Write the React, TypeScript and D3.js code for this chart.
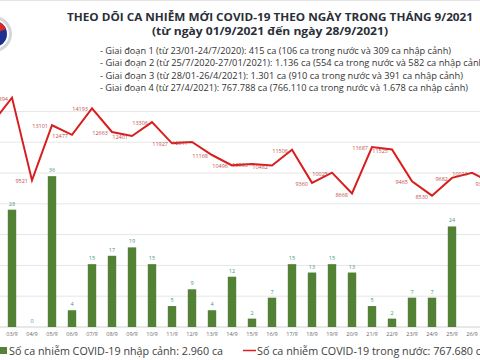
import React from "react";
import * as d3 from "d3";

const dates = ["02/9","03/9","04/9","05/9","06/9","07/9","08/9","09/9","10/9","11/9","12/9","13/9","14/9","15/9","16/9","17/9","18/9","19/9","20/9","21/9","22/9","23/9","24/9","25/9","26/9","27/9"];
const imported: (number | null)[] = [null,28,0,36,4,15,17,19,15,5,9,4,12,2,7,15,13,15,13,5,2,7,7,24,null,null];
const domestic: number[] = [13227,14894,9521,13101,12477,14193,12663,12401,13306,11927,12017,11168,10496,10583,10482,11506,9360,10025,8668,11687,11525,9465,8530,9682,10011,9373];
const gridValues = [0,2000,4000,6000,8000,10000,12000,14000];

const title1 = "THEO DÕI CA NHIỄM MỚI COVID-19 THEO NGÀY TRONG THÁNG 9/2021";
const title2 = "(từ ngày 01/9/2021 đến ngày 28/9/2021)";
const subtitles = [
  "- Giai đoạn 1 (từ 23/01-24/7/2020): 415 ca (106 ca trong nước và 309 ca nhập cảnh)",
  "- Giai đoạn 2 (từ 25/7/2020-27/01/2021): 1.136 ca (554 ca trong nước và 582 ca nhập cảnh)",
  "- Giai đoạn 3 (từ 28/01-26/4/2021): 1.301 ca (910 ca trong nước và 391 ca nhập cảnh)",
  "- Giai đoạn 4 (từ 27/4/2021): 767.788 ca (766.110 ca trong nước và 1.678 ca nhập cảnh)",
];
const subtitleWidths = [351, 387, 363, 368];
const legendImported = "Số ca nhiễm COVID-19 nhập cảnh: 2.960 ca";
const legendDomestic = "Số ca nhiễm COVID-19 trong nước: 767.680 ca";

const FONT = "'Open Sans', 'Noto Sans', sans-serif";

export default function App() {
  const W = 480, H = 360;
  const x = d3.scaleBand<string>().domain(dates).range([-18, -18 + dates.length * 20]).paddingInner(0.58).paddingOuter(0.29);
  const cx = (d: string) => (x(d) as number) + x.bandwidth() / 2;
  const yLine = d3.scaleLinear().domain([0, 16000]).range([327, 80.6]);
  const yBar = d3.scaleLinear().domain([0, 40]).range([327, 159.4]);

  const line = d3.line<number>().x((_, i) => cx(dates[i])).y((v) => yLine(v));

  return (
    <svg width={W} height={H} style={{ position: "absolute", left: 0, top: 0, background: "#fff" }} fontFamily={FONT}>
      <rect width={W} height={H} fill="#fff" />
      <line x1={0} x2={W} y1={0.5} y2={0.5} stroke="#e4e4e4" />
      {/* logo */}
      <g>
        <circle cx={-6} cy={34} r={18} fill="#d3d6dc" />
        <circle cx={-6} cy={34} r={15} fill="#fff" />
        <circle cx={-6} cy={34} r={13} fill="#1d2f8f" />
        <path d="M -6 21 A 13 13 0 0 1 6 29 L -6 34 Z" fill="#d42b2b" />
      </g>
      {/* titles */}
      <text x={270} y={20.5} textAnchor="middle" fontWeight="bold" fontSize={10.5} fill="#2a2f38" textLength={406} lengthAdjust="spacingAndGlyphs">{title1}</text>
      <text x={270} y={35} textAnchor="middle" fontWeight="bold" fontSize={10.5} fill="#2a2f38" textLength={236} lengthAdjust="spacingAndGlyphs">{title2}</text>
      {subtitles.map((s, i) => (
        <text key={i} x={100} y={53.5 + i * 12.5} fontSize={9.3} fill="#333" textLength={subtitleWidths[i]} lengthAdjust="spacingAndGlyphs">{s}</text>
      ))}
      {/* grid */}
      {gridValues.map((g) => (
        <line key={g} x1={0} x2={W} y1={yLine(g)} y2={yLine(g)} stroke={g === 0 ? "#d0d0d0" : "#e6e6e6"} strokeWidth={1} />
      ))}
      {/* bars */}
      {imported.map((v, i) => v === null ? null : (
        <g key={i}>
          <rect x={x(dates[i])} y={yBar(v)} width={x.bandwidth()} height={yBar(0) - yBar(v)} fill="#538135" />
          <text x={cx(dates[i])} y={yBar(v) - 4} textAnchor="middle" fontSize={5.5} fill="#3f9a7c">{v}</text>
        </g>
      ))}
      {/* line */}
      <path d={line(domestic) || ""} fill="none" stroke="#d81e1e" strokeWidth={2} strokeLinejoin="miter" />
      {domestic.map((v, i) => (
        <text key={i} x={cx(dates[i]) - 4} y={yLine(v) + 3} textAnchor="end" fontSize={5.5} fill="#c0504d">{v}</text>
      ))}
      {/* x labels */}
      {dates.map((d) => (
        <text key={d} x={cx(d)} y={336} textAnchor="middle" fontSize={5.5} fill="#666">{d}</text>
      ))}
      {/* legend */}
      <rect x={0} y={347} width={7} height={7} fill="#538135" />
      <text x={9} y={354.5} fontSize={10.3} fill="#404040" textLength={214} lengthAdjust="spacingAndGlyphs">{legendImported}</text>
      <line x1={243} x2={256} y1={350.5} y2={350.5} stroke="#d81e1e" strokeWidth={1.5} />
      <text x={257} y={354.5} fontSize={10.3} fill="#404040" textLength={230} lengthAdjust="spacingAndGlyphs">{legendDomestic}</text>
    </svg>
  );
}
